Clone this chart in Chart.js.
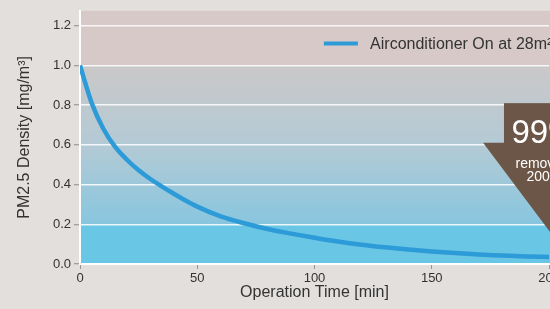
<!DOCTYPE html>
<html>
<head>
<meta charset="utf-8">
<script src="https://cdn.jsdelivr.net/npm/chart.js@4.4.0/dist/chart.umd.min.js"></script>
<style>
  html, body { margin: 0; padding: 0; background: #E3DFDC; }
  #wrap { width: 550px; height: 309px; overflow: hidden; }
  canvas { display: block; }
</style>
</head>
<body>
<div id="wrap"><canvas id="pm25" width="640" height="309"></canvas></div>
<script>
// operation time [min] and PM2.5 density [mg/m3]
var times = [0, 5, 10, 15, 20, 25, 30, 35, 40, 45, 50, 60, 70, 80, 90, 100, 110, 120, 130, 140, 150, 160, 170, 180, 190, 200];
var density = [1.0, 0.81, 0.68, 0.59, 0.525, 0.472, 0.428, 0.39, 0.354, 0.32, 0.289, 0.24, 0.205, 0.176, 0.153, 0.132, 0.113, 0.097, 0.084, 0.073, 0.063, 0.055, 0.048, 0.043, 0.038, 0.035];
var xTicks = [0, 50, 100, 150, 200];
var yTicks = [0, 0.2, 0.4, 0.6, 0.8, 1.0, 1.2];
var seriesName = 'Airconditioner On at 28m² room';
var calloutBig = '99%';
var calloutLines = ['removed in', '200 min'];

var FONT = "'Liberation Sans', Arial, Helvetica, sans-serif";
var LINE_BLUE = '#2C9BD8';
var BROWN = '#6C5647';

var points = [];
for (var i = 0; i < times.length; i++) {
    points.push({ x: times[i], y: density[i] });
}

/* plot background: pinkish band on top, blue gradient, cyan band at the bottom */
var plotBackground = {
    id: 'plotBackground',
    beforeDraw: function(chart) {
        var ctx = chart.ctx;
        var area = chart.chartArea;
        var y = chart.scales.y;
        var w = chart.width - area.left;
        var y10 = y.getPixelForValue(1.0);
        var y02 = y.getPixelForValue(0.2);
        ctx.save();
        ctx.fillStyle = '#D6C9C7';
        ctx.fillRect(area.left, area.top, w, y10 - area.top);
        var g = ctx.createLinearGradient(0, y10, 0, y02);
        g.addColorStop(0, '#CBC8C8');
        g.addColorStop(0.5, '#B3CAD5');
        g.addColorStop(1, '#88C6DF');
        ctx.fillStyle = g;
        ctx.fillRect(area.left, y10, w, y02 - y10);
        ctx.fillStyle = '#6AC6E5';
        ctx.fillRect(area.left, y02, w, area.bottom - y02);
        ctx.restore();
    }
};

/* legend inside the plot and the brown callout */
var overlay = {
    id: 'overlay',
    afterDraw: function(chart) {
        var ctx = chart.ctx;
        var x = chart.scales.x;
        var y = chart.scales.y;
        ctx.save();

        // legend
        var ly = y.getPixelForValue(1.11);
        ctx.strokeStyle = LINE_BLUE;
        ctx.lineWidth = 4;
        ctx.beginPath();
        ctx.moveTo(x.getPixelForValue(104), ly);
        ctx.lineTo(x.getPixelForValue(118.5), ly);
        ctx.stroke();
        ctx.fillStyle = '#333';
        ctx.font = '16px ' + FONT;
        ctx.textBaseline = 'middle';
        ctx.fillText(seriesName, x.getPixelForValue(123.7), ly + 1);

        // callout: box on top, pointer triangle below it
        ctx.fillStyle = BROWN;
        var bx = x.getPixelForValue(180.8);
        var by = y.getPixelForValue(0.81);
        var ty = y.getPixelForValue(0.61);
        ctx.fillRect(bx, by, x.getPixelForValue(240) - bx, ty - by + 0.5);
        ctx.beginPath();
        ctx.moveTo(x.getPixelForValue(171.9), ty);
        ctx.lineTo(x.getPixelForValue(240), ty);
        ctx.lineTo(x.getPixelForValue(211), y.getPixelForValue(-0.005));
        ctx.closePath();
        ctx.fill();

        ctx.fillStyle = '#fff';
        ctx.textBaseline = 'alphabetic';
        ctx.font = '33px ' + FONT;
        ctx.fillText(calloutBig, x.getPixelForValue(184.0), ty);
        ctx.font = '14px ' + FONT;
        ctx.fillText(calloutLines[0], x.getPixelForValue(185.7), y.getPixelForValue(0.485));
        ctx.fillText(calloutLines[1], x.getPixelForValue(190.4), y.getPixelForValue(0.42));
        ctx.restore();
    }
};

var ctx = document.getElementById('pm25').getContext('2d');
var chart = new Chart(ctx, {
    type: 'line',
    data: {
        datasets: [{
            label: seriesName,
            data: points,
            borderColor: LINE_BLUE,
            borderWidth: 4.5,
            pointRadius: 0,
            fill: false,
            cubicInterpolationMode: 'monotone'
        }]
    },
    options: {
        responsive: false,
        animation: false,
        devicePixelRatio: 1,
        layout: { padding: { top: 9, right: 91, left: 0, bottom: 0 } },
        plugins: {
            legend: { display: false },
            tooltip: { enabled: false }
        },
        scales: {
            x: {
                type: 'linear',
                min: 0,
                max: 200,
                afterFit: function(scale) { scale.height = 45; },
                afterBuildTicks: function(scale) {
                    scale.ticks = xTicks.map(function(v) { return { value: v }; });
                },
                border: { color: '#ffffff', width: 2 },
                grid: { drawOnChartArea: false, tickLength: 5, tickColor: '#9A9592', tickWidth: 1 },
                ticks: { color: '#333', font: { family: FONT, size: 13 }, padding: 2, maxRotation: 0 },
                title: {
                    display: true,
                    text: 'Operation Time [min]',
                    color: '#333',
                    font: { family: FONT, size: 16 },
                    padding: { top: 0, bottom: 7 }
                }
            },
            y: {
                min: 0,
                max: 1.275,
                afterFit: function(scale) { scale.width = 80; },
                afterBuildTicks: function(scale) {
                    scale.ticks = yTicks.map(function(v) { return { value: v }; });
                },
                border: { color: '#ffffff', width: 2 },
                grid: { color: 'rgba(255,255,255,0.85)', lineWidth: 1.5, tickLength: 6, tickColor: '#8F8A87', tickWidth: 1 },
                ticks: {
                    color: '#333',
                    font: { family: FONT, size: 13 },
                    padding: 3,
                    callback: function(v) { return v.toFixed(1); }
                },
                title: {
                    display: true,
                    text: 'PM2.5 Density [mg/m³]',
                    color: '#333',
                    font: { family: FONT, size: 16 },
                    padding: { top: 15, bottom: 0 }
                }
            }
        }
    },
    plugins: [plotBackground, overlay]
});
</script>
</body>
</html>
